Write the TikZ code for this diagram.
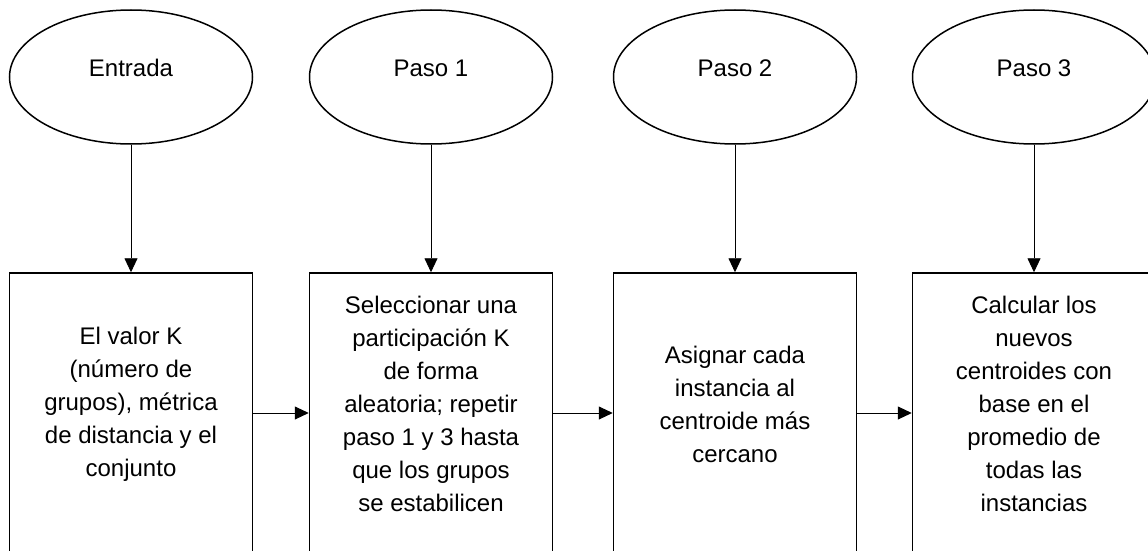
\documentclass[tikz,border=0pt]{standalone}
\usepackage{fontspec}
\setmainfont{Liberation Sans}
\usetikzlibrary{arrows.meta,shapes.geometric}
\begin{document}
\begin{tikzpicture}[x=1pt, y=-1pt,
		etapa/.style={draw, line width=1.5pt, ellipse, minimum width=243pt, minimum height=134pt},
		caja/.style={draw, line width=1.5pt, rectangle, minimum width=243pt, minimum height=280pt},
		rotulo/.style={font=\fontsize{24}{33}\selectfont, inner sep=0pt},
		texto/.style={align=center, font=\fontsize{24}{33}\selectfont, inner sep=0pt},
		flecha/.style={-{Triangle[length=14pt, width=13pt]}, line width=0.9pt}]
			\clip (0,0) rectangle (1148,551);
			\node[etapa] (e0) at (131,77) {};
			\node[etapa] (e1) at (431,77) {};
			\node[etapa] (e2) at (735,77) {};
			\node[etapa] (e3) at (1034,77) {};
			\node[rotulo, anchor=base] (r0) at ([yshift=1pt]e0.center) {Entrada};
			\node[rotulo, anchor=base] (r1) at ([yshift=1pt]e1.center) {Paso 1};
			\node[rotulo, anchor=base] (r2) at ([yshift=1pt]e2.center) {Paso 2};
			\node[rotulo, anchor=base] (r3) at ([yshift=1pt]e3.center) {Paso 3};
			\node[caja] (b0) at (131,413) {};
			\node[caja] (b1) at (431,413) {};
			\node[caja] (b2) at (735,413) {};
			\node[caja] (b3) at (1034,413) {};
			\node[texto] (t0) at ([yshift=9pt]b0.center) {El valor K\\(número de\\grupos), métrica\\de distancia y el\\conjunto};
			\node[texto] (t1) at ([yshift=9pt]b1.center) {Seleccionar una\\participación K\\de forma\\aleatoria; repetir\\paso 1 y 3 hasta\\que los grupos\\se estabilicen};
			\node[texto] (t2) at ([yshift=9pt]b2.center) {Asignar cada\\instancia al\\centroide más\\cercano};
			\node[texto] (t3) at ([yshift=9pt]b3.center) {Calcular los\\nuevos\\centroides con\\base en el\\promedio de\\todas las\\instancias};
			\draw[flecha] (e0.south) -- (b0.north);
			\draw[flecha] (e1.south) -- (b1.north);
			\draw[flecha] (e2.south) -- (b2.north);
			\draw[flecha] (e3.south) -- (b3.north);
			\draw[flecha] (b0.east) -- (b1.west);
			\draw[flecha] (b1.east) -- (b2.west);
			\draw[flecha] (b2.east) -- (b3.west);
		\end{tikzpicture}
\end{document}
